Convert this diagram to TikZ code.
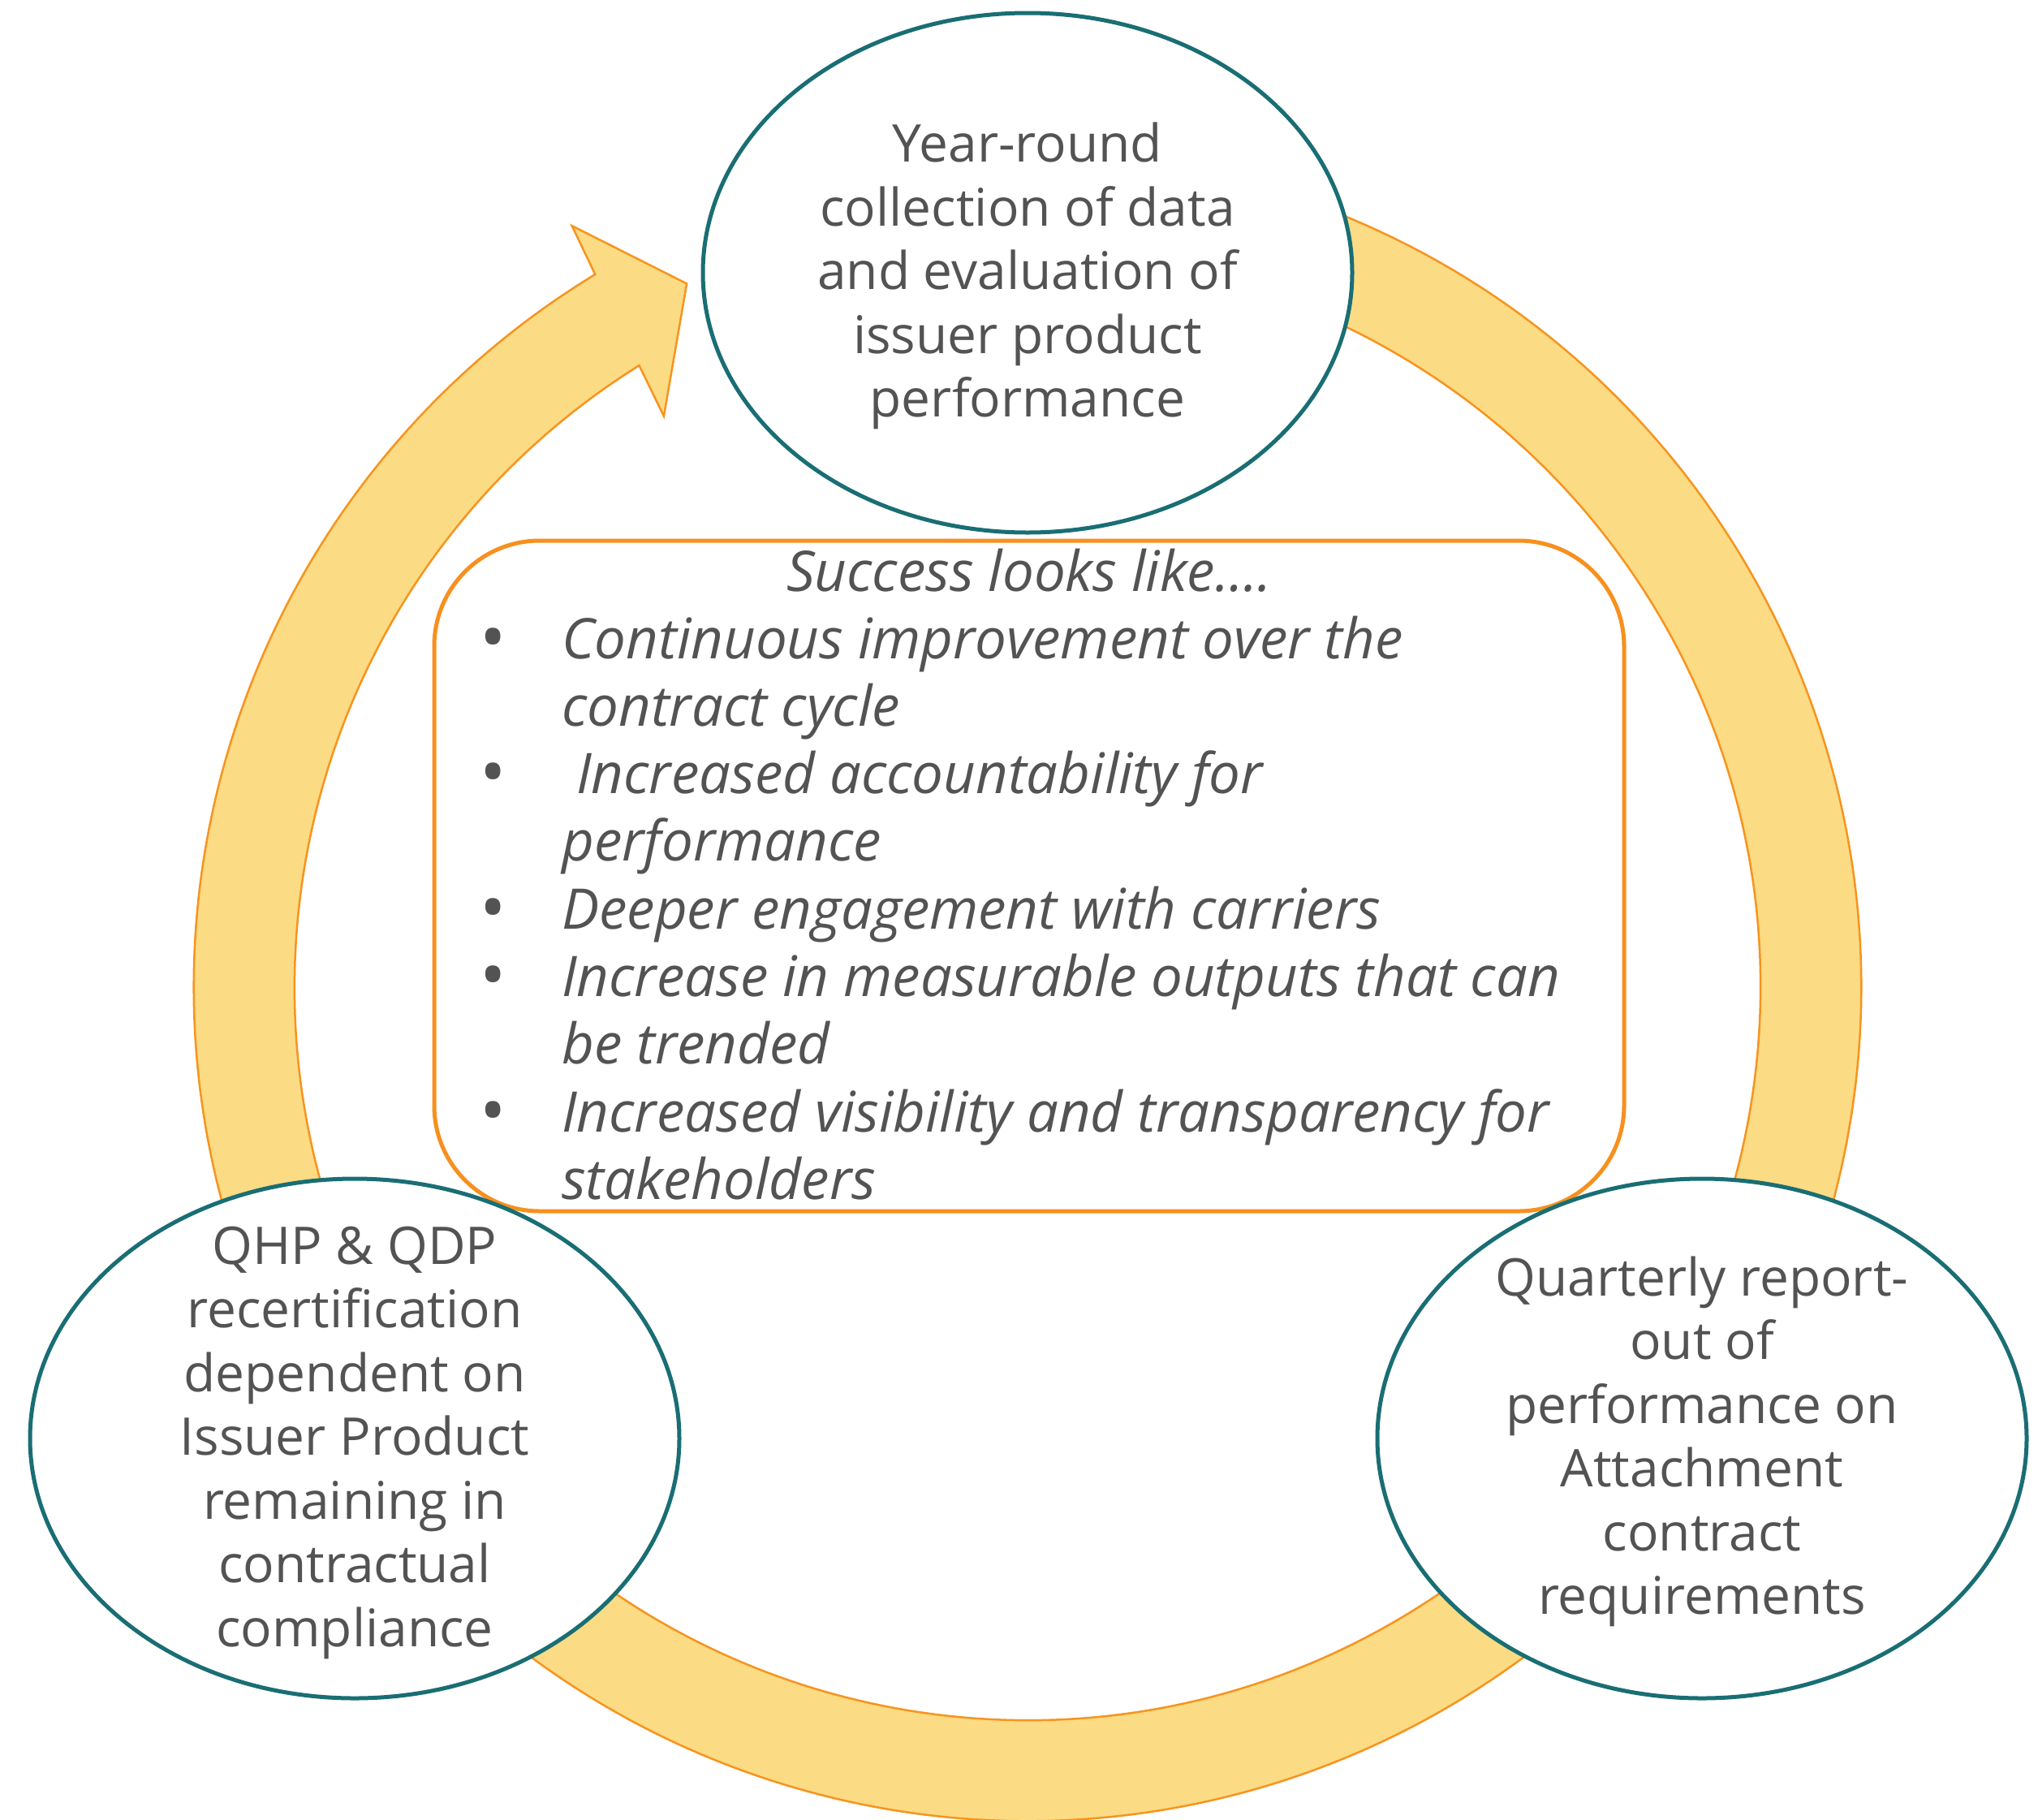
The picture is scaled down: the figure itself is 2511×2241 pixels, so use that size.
\documentclass[tikz,border=0pt]{standalone}
\usepackage{fontspec}
\setmainfont{Open Sans}
\usetikzlibrary{shapes.geometric}

\definecolor{ringfill}{RGB}{251,219,132}
\definecolor{ringline}{RGB}{247,148,30}
\definecolor{bubbleline}{RGB}{25,110,116}
\definecolor{boxline}{RGB}{247,144,30}
\definecolor{textgray}{RGB}{83,83,83}

\newcommand\bubblefont{\fontsize{64}{78.5}\selectfont}
\newcommand\succfont{\fontsize{69}{83.3}\selectfont\itshape}
% bullet glyph, set a little larger than the item text
\newcommand\bulletcell{\makebox[85pt][l]{\makebox[0pt]{\raisebox{-4pt}{\fontsize{86}{83.3}\selectfont\upshape •}}}}

\begin{document}
\begin{tikzpicture}[x=1pt,y=-1pt,
  cyclearrow/.style={fill=ringfill,draw=ringline,line width=2.5pt,line join=miter},
  bubble/.style={ellipse,draw=bubbleline,fill=white,line width=5pt,
    minimum width=800pt,minimum height=640pt,inner sep=0pt},
  bubbletext/.style={align=center,font=\bubblefont,text=textgray,inner sep=0pt},
  successbox/.style={draw=boxline,fill=white,line width=5pt,rounded corners=130pt,
    minimum width=1466pt,minimum height=826pt,inner sep=0pt},
  listtext/.style={font=\succfont,text=textgray,inner sep=0pt}]
\useasboundingbox (0,0) rectangle (2511,2241);

% circular arrow running clockwise round the three stages
\coordinate (c) at (1266,1216);
\path[cyclearrow]
  ([shift={(c)}]-70:1027) arc[start angle=-70,end angle=238.75,radius=1027]
  -- ([shift={(c)}]239.1:1093)
  -- ([shift={(c)}]244.15:963)
  -- ([shift={(c)}]237.5:834)
  -- ([shift={(c)}]238:903)
  arc[start angle=238,end angle=-70,radius=903] -- cycle;

% central box with the success criteria
\node[successbox] (box) at (1268,1079) {};
\node[listtext,anchor=base] (title) at (1268,728) {Success looks like….};
\node[listtext,anchor=base west] (items) at (607,811) {%
  \begin{tabular}[t]{@{}l@{}l@{}}
  \bulletcell & Continuous improvement over the\\
   & contract cycle\\
  \bulletcell & \hspace{0.26em}Increased accountability for\\
   & performance\\
  \bulletcell & Deeper engagement with carriers\\
  \bulletcell & Increase in measurable outputs that can\\
   & be trended\\
  \bulletcell & Increased visibility and transparency for\\
   & stakeholders
  \end{tabular}};

% the three stages
\node[bubble] (collect) at (1266,336) {};
\node[bubbletext] (collectText) at ([yshift=-5pt]collect.center)
  {\strut Year-round\\collection of data\\and evaluation of\\issuer product\\performance\strut};

\node[bubble] (report) at (2097,1772) {};
\node[bubbletext] (reportText) at ([yshift=-5pt]report.center)
  {\strut Quarterly report-\\out of\\performance on\\Attachment\\contract\\requirements\strut};

\node[bubble] (recert) at (437,1772) {};
\node[bubbletext] (recertText) at ([yshift=-5pt]recert.center)
  {\strut QHP \& QDP\\recertification\\dependent on\\Issuer Product\\remaining in\\contractual\\compliance\strut};
\end{tikzpicture}
\end{document}
